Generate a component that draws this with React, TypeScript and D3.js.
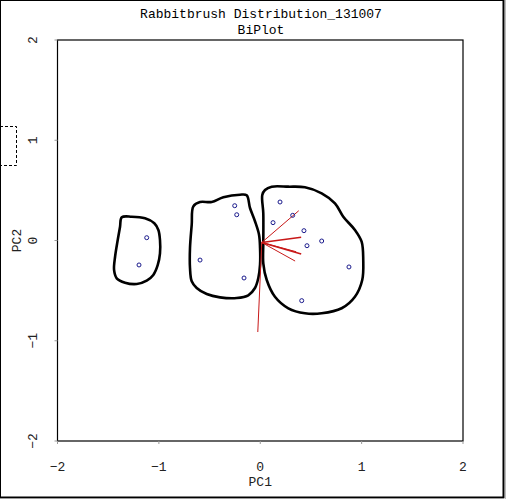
import * as d3 from "d3";
import { useEffect, useRef } from "react";

// scores (PC1, PC2)
const pc1 = [-1.12, -1.196, -0.594, -0.252, -0.232, -0.16, 0.195, 0.32, 0.126, 0.431, 0.461, 0.606, 0.875, 0.409];
const pc2 = [0.028, -0.244, -0.195, 0.347, 0.257, -0.374, 0.384, 0.251, 0.178, 0.098, -0.052, -0.005, -0.264, -0.6];

// loading vectors
const loadX = [0.365, 0.389, 0.389, 0.339, 0.329, -0.039];
const loadY = [0.317, 0.052, -0.115, -0.092, -0.185, -0.893];
const loadW = [1, 1.6, 1.6, 1, 1, 1];

// hand drawn group outlines
const hullA: [number, number][] = [
  [-1.366, 0.231], [-1.268, 0.237], [-1.137, 0.221], [-1.045, 0.172], [-1.005, 0.105],
  [-0.989, 0.005], [-0.989, -0.128], [-1.011, -0.244], [-1.055, -0.344], [-1.12, -0.401],
  [-1.218, -0.434], [-1.334, -0.421], [-1.416, -0.377], [-1.442, -0.294], [-1.432, -0.162],
  [-1.406, 0.005], [-1.383, 0.138]];
const hullB: [number, number][] = [
  [-0.66, 0.341], [-0.594, 0.384], [-0.479, 0.384], [-0.364, 0.431], [-0.2, 0.457],
  [-0.134, 0.451], [-0.101, 0.324], [-0.052, 0.192], [-0.012, 0.058], [-0.002, -0.075],
  [-0.002, -0.241], [-0.019, -0.374], [-0.052, -0.474], [-0.118, -0.547], [-0.232, -0.574],
  [-0.397, -0.567], [-0.528, -0.534], [-0.627, -0.474], [-0.676, -0.407], [-0.693, -0.274],
  [-0.693, -0.075], [-0.676, 0.158]];
const hullC: [number, number][] = [
  [0.02, 0.454], [0.047, 0.504], [0.113, 0.537], [0.277, 0.537], [0.441, 0.531],
  [0.606, 0.471], [0.737, 0.371], [0.819, 0.237], [0.934, 0.105], [1.0, -0.012],
  [1.016, -0.195], [1.006, -0.394], [0.934, -0.561], [0.803, -0.676], [0.606, -0.726],
  [0.441, -0.726], [0.277, -0.676], [0.145, -0.561], [0.064, -0.394], [0.03, -0.227],
  [0.03, -0.028], [0.03, 0.271]];

const ticks = [-2, -1, 0, 1, 2];
const titleText = "Rabbitbrush Distribution_131007";
const subTitle = "BiPlot";

export default function App() {
  const ref = useRef<SVGSVGElement>(null);

  useEffect(() => {
    const svg = d3.select(ref.current);
    svg.selectAll("*").remove();
    const font = "'Liberation Mono', 'Courier New', monospace";

    const x = d3.scaleLinear().domain([-2, 2]).range([57.5, 463]);
    const y = d3.scaleLinear().domain([-2, 2]).range([441, 40]);

    svg.append("rect").attr("width", 506).attr("height", 499).attr("fill", "#fff");

    // window frame
    svg.append("rect").attr("x", 0.5).attr("y", 0.5).attr("width", 503).attr("height", 497)
      .attr("fill", "none").attr("stroke", "#000").attr("stroke-width", 1);
    svg.append("line").attr("x1", 503.5).attr("x2", 503.5).attr("y1", 0).attr("y2", 498)
      .attr("stroke", "#000").attr("stroke-width", 2);
    svg.append("line").attr("x1", 0).attr("x2", 504).attr("y1", 497.5).attr("y2", 497.5)
      .attr("stroke", "#000").attr("stroke-width", 2);
    svg.append("rect").attr("x", 505).attr("y", 0).attr("width", 1).attr("height", 499).attr("fill", "#bbb");
    svg.append("rect").attr("x", 0).attr("y", 498.5).attr("width", 506).attr("height", 1).attr("fill", "#bbb");

    // cut off legend box
    svg.append("path").attr("d", "M0,126.5H16.5V165.5H0")
      .attr("fill", "none").attr("stroke", "#000").attr("stroke-dasharray", "3,2");

    // titles
    svg.append("text").attr("x", 261).attr("y", 18).attr("text-anchor", "middle")
      .style("font-family", font).style("font-size", "13px").text(titleText);
    svg.append("text").attr("x", 261).attr("y", 34).attr("text-anchor", "middle")
      .style("font-family", font).style("font-size", "13px").text(subTitle);

    // plot box
    svg.append("rect").attr("x", x(-2)).attr("y", y(2))
      .attr("width", x(2) - x(-2)).attr("height", y(-2) - y(2))
      .attr("fill", "none").attr("stroke", "#000").attr("stroke-width", 1.2);

    // x ticks
    ticks.forEach((t) => {
      svg.append("line").attr("x1", x(t)).attr("x2", x(t)).attr("y1", y(-2)).attr("y2", y(-2) + 3)
        .attr("stroke", "#999");
      svg.append("text").attr("x", x(t)).attr("y", 471).attr("text-anchor", "middle")
        .style("font-family", font).style("font-size", "13px").attr("fill", "#222")
        .text(t < 0 ? "\u2212" + Math.abs(t) : String(t));
      svg.append("line").attr("x1", x(-2) - 3).attr("x2", x(-2)).attr("y1", y(t)).attr("y2", y(t))
        .attr("stroke", "#999");
      svg.append("text").attr("transform", `translate(37,${y(t)}) rotate(-90)`)
        .attr("text-anchor", "middle")
        .style("font-family", font).style("font-size", "13px").attr("fill", "#222")
        .text(t < 0 ? "\u2212" + Math.abs(t) : String(t));
    });

    svg.append("text").attr("x", x(0)).attr("y", 486).attr("text-anchor", "middle")
      .style("font-family", font).style("font-size", "13px").attr("fill", "#222").text("PC1");
    svg.append("text").attr("transform", `translate(21,${y(0)}) rotate(-90)`)
      .attr("text-anchor", "middle")
      .style("font-family", font).style("font-size", "13px").attr("fill", "#222").text("PC2");

    // outlines
    const outline = d3.line<[number, number]>()
      .x((d) => x(d[0]))
      .y((d) => y(d[1]))
      .curve(d3.curveCatmullRomClosed.alpha(0.5));
    [hullA, hullB, hullC].forEach((h) => {
      svg.append("path").attr("d", outline(h)).attr("fill", "none")
        .attr("stroke", "#000").attr("stroke-width", 2.6).attr("stroke-linejoin", "round");
    });

    // loadings
    svg.selectAll("line.load")
      .data(loadX)
      .enter()
      .append("line")
      .attr("class", "load")
      .attr("x1", x(0) + 1.5)
      .attr("y1", y(0) + 2)
      .attr("x2", (d) => x(d) + 1.5)
      .attr("y2", (d, i) => y(loadY[i]) + 2)
      .attr("stroke", "#c81818")
      .attr("stroke-width", (d, i) => loadW[i]);

    // scores
    svg.selectAll("circle.pt")
      .data(pc1)
      .enter()
      .append("circle")
      .attr("class", "pt")
      .attr("cx", (d) => x(d))
      .attr("cy", (d, i) => y(pc2[i]))
      .attr("r", 2)
      .attr("fill", "none")
      .attr("stroke", "#1a1a8c")
      .attr("stroke-width", 1);
  }, []);

  return (
    <svg
      ref={ref}
      width={506}
      height={499}
      style={{ position: "absolute", left: 0, top: 0, display: "block" }}
    />
  );
}
